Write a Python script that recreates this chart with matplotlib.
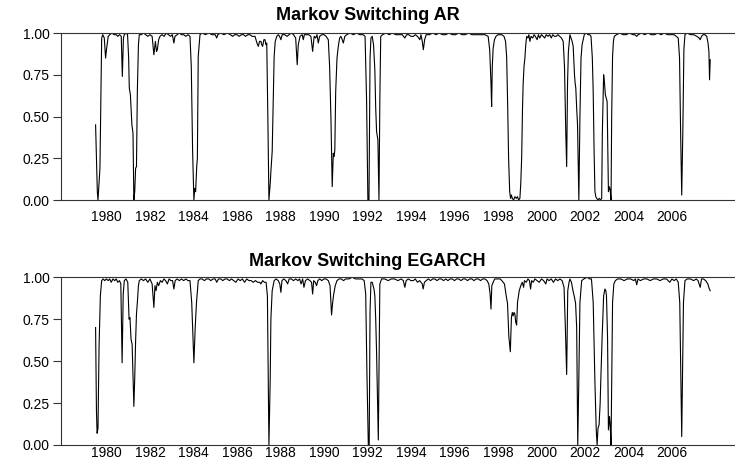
import matplotlib
matplotlib.use("Agg")
import matplotlib.pyplot as plt

plt.rcParams['font.family'] = ['Liberation Sans', 'DejaVu Sans']

# smoothed regime probabilities (decimal year, prob)
ar_years = [
    1979.50, 1979.58, 1979.61, 1979.66, 1979.70, 1979.74, 1979.78, 1979.83, 1979.90, 1979.96,
    1980.00, 1980.08, 1980.15, 1980.25, 1980.35, 1980.45, 1980.52, 1980.60, 1980.68, 1980.73,
    1980.78, 1980.82, 1980.90, 1980.97, 1981.02, 1981.05, 1981.10, 1981.17, 1981.22, 1981.26,
    1981.30, 1981.34, 1981.38, 1981.42, 1981.47, 1981.51, 1981.60, 1981.70, 1981.80, 1981.90,
    1982.00, 1982.10, 1982.18, 1982.25, 1982.30, 1982.34, 1982.40, 1982.46, 1982.55, 1982.65,
    1982.75, 1982.85, 1982.95, 1983.03, 1983.10, 1983.15, 1983.25, 1983.35, 1983.45, 1983.55,
    1983.65, 1983.75, 1983.84, 1983.90, 1983.96, 1984.02, 1984.06, 1984.10, 1984.15, 1984.18,
    1984.22, 1984.30, 1984.40, 1984.55, 1984.70, 1984.85, 1985.00, 1985.07, 1985.12, 1985.25,
    1985.40, 1985.55, 1985.70, 1985.80, 1985.90, 1986.00, 1986.10, 1986.20, 1986.30, 1986.40,
    1986.50, 1986.60, 1986.70, 1986.83, 1986.92, 1986.98, 1987.04, 1987.10, 1987.14, 1987.18,
    1987.24, 1987.29, 1987.33, 1987.37, 1987.42, 1987.47, 1987.53, 1987.56, 1987.62, 1987.67,
    1987.71, 1987.76, 1987.83, 1987.90, 1987.96, 1988.02, 1988.08, 1988.20, 1988.30, 1988.40,
    1988.50, 1988.60, 1988.70, 1988.77, 1988.82, 1988.90, 1989.00, 1989.05, 1989.10, 1989.20,
    1989.30, 1989.40, 1989.48, 1989.55, 1989.62, 1989.68, 1989.74, 1989.80, 1989.90, 1990.00,
    1990.10, 1990.20, 1990.26, 1990.32, 1990.38, 1990.43, 1990.47, 1990.50, 1990.54, 1990.60,
    1990.66, 1990.72, 1990.78, 1990.84, 1990.89, 1990.96, 1991.05, 1991.20, 1991.35, 1991.50,
    1991.65, 1991.80, 1991.89, 1991.96, 1992.02, 1992.07, 1992.12, 1992.16, 1992.22, 1992.28,
    1992.34, 1992.38, 1992.42, 1992.48, 1992.53, 1992.57, 1992.61, 1992.70, 1992.85, 1993.00,
    1993.15, 1993.30, 1993.45, 1993.60, 1993.72, 1993.80, 1993.90, 1994.00, 1994.11, 1994.20,
    1994.30, 1994.41, 1994.46, 1994.52, 1994.57, 1994.63, 1994.70, 1994.85, 1995.00, 1995.15,
    1995.30, 1995.45, 1995.60, 1995.75, 1995.90, 1996.05, 1996.20, 1996.35, 1996.50, 1996.65,
    1996.80, 1996.95, 1997.10, 1997.25, 1997.40, 1997.55, 1997.62, 1997.68, 1997.71, 1997.74,
    1997.78, 1997.84, 1997.91, 1998.00, 1998.17, 1998.28, 1998.35, 1998.40, 1998.45, 1998.49,
    1998.54, 1998.58, 1998.62, 1998.66, 1998.72, 1998.78, 1998.84, 1998.90, 1998.95, 1999.01,
    1999.05, 1999.09, 1999.13, 1999.16, 1999.20, 1999.24, 1999.28, 1999.32, 1999.38, 1999.42,
    1999.47, 1999.52, 1999.60, 1999.66, 1999.72, 1999.80, 1999.86, 1999.92, 2000.00, 2000.08,
    2000.15, 2000.22, 2000.30, 2000.38, 2000.45, 2000.52, 2000.60, 2000.68, 2000.76, 2000.84,
    2000.92, 2001.00, 2001.06, 2001.12, 2001.16, 2001.20, 2001.24, 2001.31, 2001.36, 2001.41,
    2001.46, 2001.52, 2001.55, 2001.58, 2001.62, 2001.66, 2001.72, 2001.77, 2001.82, 2001.87,
    2001.92, 2001.97, 2002.05, 2002.15, 2002.22, 2002.28, 2002.34, 2002.38, 2002.42, 2002.46,
    2002.50, 2002.54, 2002.60, 2002.66, 2002.72, 2002.77, 2002.80, 2002.86, 2002.90, 2002.94,
    2002.98, 2003.02, 2003.05, 2003.08, 2003.12, 2003.16, 2003.20, 2003.23, 2003.27, 2003.31,
    2003.35, 2003.45, 2003.60, 2003.75, 2003.90, 2004.05, 2004.20, 2004.30, 2004.38, 2004.45,
    2004.60, 2004.75, 2004.90, 2005.05, 2005.20, 2005.35, 2005.50, 2005.65, 2005.80, 2005.95,
    2006.10, 2006.20, 2006.29, 2006.35, 2006.40, 2006.45, 2006.50, 2006.55, 2006.60, 2006.70,
    2006.85, 2007.00, 2007.15, 2007.25, 2007.30, 2007.36, 2007.43, 2007.52, 2007.60, 2007.66,
    2007.70, 2007.73, 2007.76,
]
ar_probs = [
    0.45, 0.05, 0.00, 0.10, 0.19, 0.60, 0.97, 0.99, 0.97, 0.85,
    0.90, 0.98, 0.99, 1.00, 0.99, 0.99, 0.98, 0.99, 0.98, 0.74,
    0.97, 0.99, 1.00, 0.99, 0.85, 0.67, 0.63, 0.45, 0.40, 0.00,
    0.05, 0.19, 0.20, 0.65, 0.93, 0.99, 0.99, 1.00, 0.99, 0.98,
    0.99, 0.98, 0.87, 0.95, 0.89, 0.90, 0.96, 0.98, 0.99, 0.98,
    1.00, 0.99, 0.98, 0.99, 0.94, 0.98, 0.99, 1.00, 0.99, 0.99,
    0.98, 0.99, 0.98, 0.80, 0.30, 0.00, 0.07, 0.05, 0.20, 0.25,
    0.86, 0.99, 1.00, 0.99, 1.00, 0.99, 0.99, 0.97, 0.99, 1.00,
    0.99, 1.00, 0.99, 0.98, 0.99, 0.99, 0.98, 0.99, 0.99, 0.98,
    0.99, 0.99, 0.98, 0.98, 0.94, 0.92, 0.95, 0.95, 0.93, 0.92,
    0.96, 0.96, 0.93, 0.94, 0.50, 0.00, 0.10, 0.17, 0.29, 0.60,
    0.86, 0.95, 0.98, 0.99, 0.98, 0.96, 0.99, 0.99, 0.98, 0.99,
    1.00, 0.99, 0.97, 0.81, 0.93, 0.98, 0.99, 0.96, 0.99, 0.99,
    0.99, 0.98, 0.89, 0.98, 0.97, 0.99, 0.94, 0.98, 0.99, 0.99,
    0.98, 0.96, 0.80, 0.50, 0.08, 0.28, 0.26, 0.30, 0.65, 0.85,
    0.92, 0.97, 0.98, 0.96, 0.94, 0.98, 0.99, 1.00, 0.99, 1.00,
    0.99, 0.99, 0.98, 0.60, 0.00, 0.00, 0.85, 0.97, 0.98, 0.93,
    0.78, 0.55, 0.41, 0.36, 0.00, 0.60, 0.98, 0.99, 1.00, 0.99,
    1.00, 0.99, 0.99, 0.99, 0.97, 0.99, 0.99, 0.98, 0.98, 0.99,
    0.98, 0.96, 0.99, 0.95, 0.90, 0.96, 0.99, 0.99, 1.00, 0.99,
    1.00, 0.99, 0.99, 1.00, 0.99, 0.99, 1.00, 0.99, 0.99, 1.00,
    0.99, 0.99, 0.99, 0.99, 0.99, 0.98, 0.90, 0.70, 0.56, 0.80,
    0.91, 0.96, 0.98, 0.99, 0.99, 0.98, 0.95, 0.86, 0.55, 0.25,
    0.05, 0.01, 0.03, 0.01, 0.00, 0.02, 0.01, 0.02, 0.00, 0.01,
    0.10, 0.25, 0.55, 0.70, 0.80, 0.85, 0.93, 0.98, 0.97, 0.99,
    0.95, 0.98, 0.97, 0.99, 0.98, 0.96, 0.99, 0.97, 0.99, 0.98,
    0.97, 0.99, 0.98, 0.99, 0.97, 0.99, 0.98, 0.98, 0.99, 0.98,
    0.97, 0.95, 0.80, 0.40, 0.20, 0.70, 0.89, 0.99, 0.97, 0.95,
    0.92, 0.75, 0.70, 0.67, 0.55, 0.45, 0.00, 0.50, 0.85, 0.93,
    0.96, 0.99, 1.00, 0.99, 0.99, 0.98, 0.85, 0.65, 0.30, 0.05,
    0.02, 0.01, 0.00, 0.01, 0.00, 0.01, 0.40, 0.75, 0.70, 0.63,
    0.61, 0.59, 0.30, 0.05, 0.08, 0.06, 0.00, 0.50, 0.86, 0.95,
    0.98, 0.99, 1.00, 0.99, 0.99, 1.00, 0.99, 0.99, 0.98, 0.99,
    1.00, 0.99, 1.00, 0.99, 0.99, 1.00, 0.99, 1.00, 0.99, 0.99,
    0.99, 0.98, 0.97, 0.85, 0.40, 0.03, 0.40, 0.90, 0.99, 1.00,
    0.99, 0.99, 0.98, 0.97, 0.96, 0.98, 0.99, 0.99, 0.98, 0.94,
    0.89, 0.72, 0.84,
]

eg_years = [
    1979.50, 1979.54, 1979.57, 1979.61, 1979.66, 1979.72, 1979.78, 1979.85, 1979.92, 1980.00,
    1980.08, 1980.15, 1980.22, 1980.30, 1980.38, 1980.45, 1980.52, 1980.60, 1980.66, 1980.72,
    1980.77, 1980.82, 1980.90, 1980.98, 1981.04, 1981.08, 1981.13, 1981.18, 1981.26, 1981.30,
    1981.34, 1981.38, 1981.42, 1981.47, 1981.51, 1981.60, 1981.70, 1981.80, 1981.90, 1982.00,
    1982.10, 1982.18, 1982.23, 1982.28, 1982.34, 1982.40, 1982.48, 1982.56, 1982.64, 1982.72,
    1982.80, 1982.88, 1982.96, 1983.04, 1983.10, 1983.16, 1983.25, 1983.35, 1983.45, 1983.55,
    1983.65, 1983.75, 1983.84, 1983.92, 1984.02, 1984.08, 1984.14, 1984.22, 1984.30, 1984.40,
    1984.50, 1984.60, 1984.70, 1984.80, 1984.90, 1985.00, 1985.07, 1985.15, 1985.25, 1985.35,
    1985.45, 1985.55, 1985.65, 1985.75, 1985.85, 1985.95, 1986.05, 1986.15, 1986.25, 1986.35,
    1986.45, 1986.55, 1986.65, 1986.75, 1986.85, 1986.95, 1987.05, 1987.10, 1987.18, 1987.26,
    1987.34, 1987.40, 1987.47, 1987.53, 1987.56, 1987.62, 1987.71, 1987.80, 1987.90, 1987.97,
    1988.02, 1988.07, 1988.15, 1988.25, 1988.33, 1988.40, 1988.50, 1988.60, 1988.70, 1988.80,
    1988.88, 1988.95, 1989.02, 1989.08, 1989.15, 1989.25, 1989.35, 1989.43, 1989.48, 1989.53,
    1989.60, 1989.66, 1989.72, 1989.80, 1989.90, 1990.00, 1990.10, 1990.20, 1990.28, 1990.35,
    1990.40, 1990.45, 1990.52, 1990.60, 1990.70, 1990.80, 1990.90, 1991.00, 1991.15, 1991.30,
    1991.45, 1991.60, 1991.75, 1991.85, 1991.92, 1991.98, 1992.04, 1992.08, 1992.12, 1992.16,
    1992.22, 1992.30, 1992.34, 1992.38, 1992.42, 1992.46, 1992.50, 1992.54, 1992.57, 1992.65,
    1992.80, 1992.95, 1993.10, 1993.25, 1993.40, 1993.55, 1993.65, 1993.72, 1993.78, 1993.88,
    1994.00, 1994.11, 1994.20, 1994.30, 1994.40, 1994.46, 1994.52, 1994.56, 1994.62, 1994.70,
    1994.80, 1994.90, 1995.00, 1995.10, 1995.20, 1995.30, 1995.40, 1995.50, 1995.60, 1995.70,
    1995.80, 1995.90, 1996.00, 1996.10, 1996.20, 1996.30, 1996.40, 1996.50, 1996.60, 1996.70,
    1996.80, 1996.90, 1997.00, 1997.10, 1997.20, 1997.30, 1997.40, 1997.50, 1997.58, 1997.64,
    1997.68, 1997.72, 1997.78, 1997.85, 1997.95, 1998.10, 1998.18, 1998.30, 1998.38, 1998.44,
    1998.50, 1998.57, 1998.62, 1998.66, 1998.70, 1998.74, 1998.78, 1998.82, 1998.86, 1998.90,
    1998.98, 1999.05, 1999.12, 1999.18, 1999.22, 1999.30, 1999.38, 1999.45, 1999.50, 1999.55,
    1999.62, 1999.70, 1999.80, 1999.90, 2000.00, 2000.10, 2000.20, 2000.26, 2000.35, 2000.45,
    2000.55, 2000.65, 2000.75, 2000.85, 2000.95, 2001.04, 2001.10, 2001.16, 2001.21, 2001.27,
    2001.31, 2001.38, 2001.45, 2001.52, 2001.57, 2001.62, 2001.67, 2001.72, 2001.77, 2001.85,
    2001.95, 2002.10, 2002.22, 2002.30, 2002.38, 2002.46, 2002.52, 2002.56, 2002.60, 2002.65,
    2002.70, 2002.73, 2002.79, 2002.86, 2002.92, 2002.96, 2002.99, 2003.04, 2003.08, 2003.13,
    2003.16, 2003.20, 2003.24, 2003.27, 2003.33, 2003.40, 2003.50, 2003.65, 2003.80, 2003.95,
    2004.10, 2004.25, 2004.32, 2004.38, 2004.44, 2004.55, 2004.70, 2004.85, 2005.00, 2005.15,
    2005.30, 2005.45, 2005.60, 2005.75, 2005.90, 2006.00, 2006.10, 2006.20, 2006.29, 2006.36,
    2006.41, 2006.45, 2006.49, 2006.53, 2006.60, 2006.70, 2006.85, 2007.00, 2007.12, 2007.20,
    2007.30, 2007.36, 2007.45, 2007.55, 2007.65, 2007.72, 2007.76,
]
eg_probs = [
    0.70, 0.20, 0.07, 0.10, 0.59, 0.89, 0.98, 0.99, 0.98, 0.99,
    0.98, 0.99, 0.97, 0.99, 0.98, 0.99, 0.97, 0.98, 0.96, 0.49,
    0.90, 0.98, 0.99, 0.97, 0.75, 0.76, 0.63, 0.60, 0.23, 0.40,
    0.62, 0.78, 0.85, 0.95, 0.98, 0.99, 0.98, 0.99, 0.97, 0.99,
    0.96, 0.82, 0.95, 0.92, 0.97, 0.95, 0.98, 0.97, 0.99, 0.98,
    0.96, 0.99, 0.98, 0.98, 0.93, 0.98, 0.99, 0.98, 0.99, 0.98,
    0.99, 0.98, 0.98, 0.85, 0.49, 0.70, 0.85, 0.98, 0.99, 0.99,
    0.98, 0.99, 0.99, 0.98, 0.99, 0.99, 0.97, 0.99, 0.99, 0.98,
    0.99, 0.99, 0.98, 0.99, 0.98, 0.97, 0.99, 0.98, 0.99, 0.97,
    0.99, 0.98, 0.98, 0.97, 0.98, 0.97, 0.97, 0.96, 0.98, 0.97,
    0.97, 0.89, 0.00, 0.40, 0.75, 0.92, 0.98, 0.99, 0.98, 0.96,
    0.91, 0.98, 0.99, 0.98, 0.96, 0.99, 0.99, 0.98, 0.99, 0.98,
    0.99, 0.96, 0.99, 0.94, 0.98, 0.99, 0.98, 0.97, 0.90, 0.98,
    0.97, 0.95, 0.98, 0.99, 0.98, 0.99, 0.99, 0.98, 0.95, 0.775,
    0.85, 0.90, 0.95, 0.98, 0.99, 0.99, 0.98, 0.99, 0.99, 1.00,
    0.99, 0.99, 0.99, 0.98, 0.90, 0.40, 0.00, 0.00, 0.80, 0.97,
    0.97, 0.93, 0.89, 0.75, 0.55, 0.30, 0.03, 0.60, 0.96, 0.99,
    0.99, 0.98, 0.99, 0.99, 0.98, 0.99, 0.98, 0.94, 0.98, 0.99,
    0.98, 0.98, 0.99, 0.97, 0.98, 0.97, 0.96, 0.93, 0.97, 0.98,
    0.99, 0.98, 0.99, 0.99, 0.98, 0.99, 0.99, 0.98, 0.99, 0.98,
    0.99, 0.99, 0.98, 0.99, 0.99, 0.98, 0.99, 0.99, 0.98, 0.99,
    0.99, 0.98, 0.99, 0.99, 0.98, 0.99, 0.99, 0.98, 0.96, 0.90,
    0.81, 0.95, 0.97, 0.99, 0.99, 0.99, 0.98, 0.96, 0.89, 0.845,
    0.65, 0.556, 0.76, 0.79, 0.77, 0.79, 0.78, 0.73, 0.715, 0.85,
    0.92, 0.95, 0.97, 0.94, 0.98, 0.97, 0.99, 0.98, 0.93, 0.98,
    0.97, 0.99, 0.98, 0.97, 0.99, 0.98, 0.96, 0.99, 0.98, 0.99,
    0.97, 0.99, 0.98, 0.99, 0.98, 0.94, 0.70, 0.42, 0.92, 0.97,
    0.99, 0.97, 0.92, 0.88, 0.845, 0.70, 0.00, 0.40, 0.85, 0.98,
    0.99, 1.00, 0.99, 0.99, 0.85, 0.37, 0.09, 0.00, 0.10, 0.12,
    0.25, 0.39, 0.64, 0.89, 0.93, 0.92, 0.89, 0.64, 0.09, 0.17,
    0.12, 0.00, 0.50, 0.85, 0.96, 0.98, 0.99, 0.99, 0.98, 0.99,
    0.99, 0.98, 0.99, 0.955, 0.99, 0.98, 0.99, 0.99, 0.98, 0.99,
    0.99, 0.98, 0.99, 0.99, 0.97, 0.99, 0.98, 0.99, 0.97, 0.85,
    0.40, 0.05, 0.45, 0.85, 0.98, 0.99, 0.99, 0.98, 0.99, 0.98,
    0.94, 0.99, 0.99, 0.98, 0.96, 0.93, 0.92,
]

titles = ["Markov Switching AR", "Markov Switching EGARCH"]
year_ticks = list(range(1980, 2007, 2))
prob_ticks = [0.0, 0.25, 0.5, 0.75, 1.0]

fig = plt.figure(figsize=(7.35, 4.75), dpi=100)
ax1 = fig.add_axes([0.0830, 0.5789, 0.9170, 0.3516])
ax2 = fig.add_axes([0.0830, 0.0632, 0.9170, 0.3531])

panels = [(ax1, ar_years, ar_probs, 7.0), (ax2, eg_years, eg_probs, 0.5)]
for ax, xs, ys, xpad in panels:
    ax.plot(xs, ys, color='black', lw=0.8)
    ax.set_xlim(1977.91, 2008.90)
    ax.set_ylim(0, 1)
    ax.spines['right'].set_visible(False)
    for s in ['left', 'top', 'bottom']:
        ax.spines[s].set_color('#333333')
        ax.spines[s].set_linewidth(0.8)
    ax.set_xticks(year_ticks)
    ax.set_xticklabels([str(y) for y in year_ticks])
    ax.set_yticks(prob_ticks)
    ax.set_yticklabels(["%.2f" % p for p in prob_ticks])
    ax.tick_params(axis='x', length=0, pad=xpad, labelsize=10)
    ax.tick_params(axis='y', length=6, width=0.8, pad=2, labelsize=10, color='#333333')

fig.text(0.5, 0.967, titles[0], ha='center', va='center', fontsize=13, fontweight='bold')
fig.text(0.5, 0.4495, titles[1], ha='center', va='center', fontsize=13, fontweight='bold')

fig.savefig('out.png', dpi=100)
